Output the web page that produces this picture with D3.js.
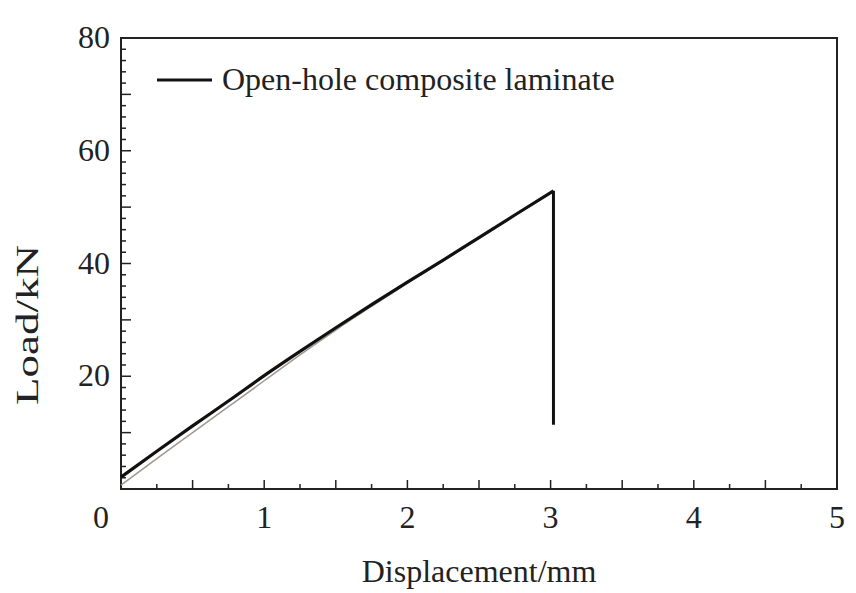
<!DOCTYPE html>
<html><head><meta charset="utf-8">
<script src="https://cdn.jsdelivr.net/npm/d3@7"></script>
<style>body{margin:0;background:#fff}svg{display:block}text{font-family:"Liberation Serif","Times New Roman",serif;fill:#222}</style>
</head><body>
<svg id="c" width="856" height="593"></svg>
<script>
const xTicks=[0,1,2,3,4,5];
const yTicks=[20,40,60,80];
const seriesName="Open-hole composite laminate";
const dispMain=[0,0.25,0.5,0.75,1.0,1.25,1.5,1.75,2.0,2.25,2.5,2.75,3.02];
const loadMain=[2.1,6.7,11.2,15.6,20.1,24.4,28.6,32.7,36.7,40.6,44.6,48.6,52.9];
const dropDisp=[3.02,3.02];
const dropLoad=[52.9,11.4];
const dispShadow=[0,0.25,0.5,0.75,1.0,1.25,1.5,1.75,2.0,2.25,2.5,2.75,3.02];
const loadShadow=[0.7,5.4,10.0,14.6,19.2,23.8,28.2,32.4,36.5,40.5,44.5,48.5,52.8];

const svg=d3.select("#c");
const L=121,R=837,T=38,B=489;
const x=d3.scaleLinear().domain([0,5]).range([L,R]);
const y=d3.scaleLinear().domain([0,80]).range([B,T]);
const g=svg.append("g");

const xMinor=d3.range(0,5.001,0.25);
xMinor.forEach(v=>{const big=Math.abs(v*2-Math.round(v*2))<1e-6;
 g.append("line").attr("x1",x(v)).attr("x2",x(v)).attr("y1",B).attr("y2",B-(big?9:5)).attr("stroke","#222").attr("stroke-width",1.5);});
const yMinor=d3.range(0,80.001,2);
yMinor.forEach(v=>{const big=v%10===0;
 g.append("line").attr("x1",L).attr("x2",L+(big?10:5)).attr("y1",y(v)).attr("y2",y(v)).attr("stroke","#222").attr("stroke-width",1.5);});

g.append("rect").attr("x",L).attr("y",T).attr("width",R-L).attr("height",B-T).attr("fill","none").attr("stroke","#222").attr("stroke-width",2);

xTicks.forEach(v=>{g.append("text").attr("x",v===0?x(v)-20:x(v)).attr("y",528).attr("text-anchor","middle").attr("font-size",32).text(v);});
yTicks.forEach(v=>{g.append("text").attr("x",110).attr("y",y(v)+10).attr("text-anchor","end").attr("font-size",32).text(v);});

g.append("text").attr("x",479).attr("y",582).attr("text-anchor","middle").attr("font-size",32).text("Displacement/mm");
g.append("text").attr("transform","translate(38,325) rotate(-90)").attr("text-anchor","middle").attr("font-size",32)
 .attr("textLength",160).attr("lengthAdjust","spacingAndGlyphs").text("Load/kN");

const curve=d3.line().x(d=>x(d[0])).y(d=>y(d[1])).curve(d3.curveMonotoneX);
const straight=d3.line().x(d=>x(d[0])).y(d=>y(d[1]));
g.append("path").datum(dispShadow.map((d,i)=>[d,loadShadow[i]])).attr("d",curve).attr("fill","none").attr("stroke","#a09890").attr("stroke-width",1.5);
g.append("path").datum(dispMain.map((d,i)=>[d,loadMain[i]])).attr("d",curve).attr("fill","none").attr("stroke","#111").attr("stroke-width",3.2);
g.append("path").datum(dropDisp.map((d,i)=>[d,dropLoad[i]])).attr("d",straight).attr("fill","none").attr("stroke","#111").attr("stroke-width",3);

g.append("line").attr("x1",157).attr("x2",212).attr("y1",80).attr("y2",80).attr("stroke","#111").attr("stroke-width",3);
g.append("text").attr("x",222).attr("y",90).attr("font-size",32).text(seriesName);
</script>
</body></html>
